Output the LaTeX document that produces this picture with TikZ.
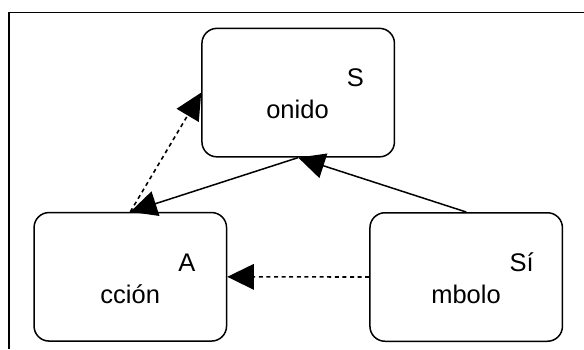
\documentclass[tikz,border=0pt]{standalone}
\usepackage{fontspec}
\setmainfont{Liberation Sans}
\usetikzlibrary{arrows.meta}
\begin{document}
\begin{tikzpicture}[x=1pt,y=-1pt,
  state/.style={draw, rounded corners=15pt, line width=1.5pt,
    minimum width=192.5pt, minimum height=128.5pt, inner sep=0pt},
  word/.style={inner sep=0pt, font=\fontsize{25.5pt}{31.6pt}\selectfont},
  link/.style={line width=1.5pt, -{Triangle[length=26.5pt 0, width=25.5pt 0]}},
  weak/.style={link, line width=1.6pt, dash pattern=on 4pt off 3.6pt},
]
\useasboundingbox (0,0) rectangle (584,349);

% open frame: top and left edges only
\coordinate (fa) at (584,12.5);
\coordinate (fb) at (9,12.5);
\coordinate (fc) at (9,349);
\draw[line width=1.7pt] (fa) -- (fb) -- (fc);

% the three states
\node[state] (son) at (298.2,92.6) {};
\node[state] (acc) at (130.3,276.8) {};
\node[state] (sim) at (466.2,277) {};

% labels, split over two lines
\node[word, anchor=base east] (sonA) at (364,86.7) {S};
\node[word, anchor=base] (sonB) at (297.5,118) {onido};
\node[word, anchor=base east] (accA) at (195.5,271.7) {A};
\node[word, anchor=base] (accB) at (130.2,303.3) {cción};
\node[word, anchor=base east] (simA) at (534,271.7) {Sí};
\node[word, anchor=base] (simB) at (466,303.3) {mbolo};

% connectors
\draw[link] (sim.north) -- (son.south);
\draw[link] (son.south) -- (acc.north);
\draw[weak] (acc.north) -- (son.west);
\draw[weak] (sim.west) -- (acc.east);
\end{tikzpicture}
\end{document}
